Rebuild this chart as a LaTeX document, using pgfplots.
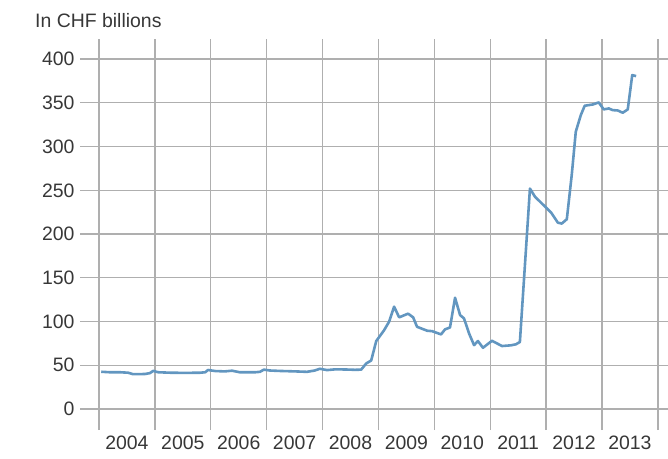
\documentclass[border=0pt]{standalone}
\usepackage{pgfplots}
\pgfplotsset{compat=1.18}
\usepackage{fontspec}
\setmainfont{Liberation Sans}
\definecolor{txt}{RGB}{55,55,55}
\definecolor{gridc}{RGB}{175,175,175}
\definecolor{line}{RGB}{98,150,192}
\begin{document}
\begin{tikzpicture}
\begin{axis}[
  scale only axis,
  width=588bp, height=391bp,
  xmin=2003.66, xmax=2014.18,
  ymin=-24, ymax=423,
  xtick={2004,...,2014},
  xticklabels={2004,2005,2006,2007,2008,2009,2010,2011,2012,2013,},
  x tick label as interval=true,
  ytick={0,50,...,400},
  grid=major,
  major grid style={gridc, line width=1.3bp},
  axis line style={draw=none},
  major tick length=0pt,
  tick label style={font=\fontsize{19.5}{22}\selectfont, text=txt},
  /pgf/number format/assume math mode=true,
  /pgf/number format/1000 sep={},
  yticklabel style={xshift=-2bp},
  xticklabel style={yshift=-2bp},
  clip=false,
]
\addplot[line, line width=2.6bp, line join=round] coordinates {
(2004.04,42.6)(2004.20,42)(2004.38,42)(2004.52,41.5)(2004.61,39.8)(2004.82,40)(2004.91,41)(2004.97,43.6)
(2005.06,42)(2005.27,41.5)(2005.54,41.3)(2005.81,41.5)(2005.90,42)(2005.95,44.6)
(2006.08,43.4)(2006.25,43)(2006.38,43.8)(2006.52,42)(2006.79,42)(2006.88,42.5)(2006.95,45)
(2007.06,44)(2007.24,43.5)(2007.51,43)(2007.72,42.5)(2007.86,44)(2007.95,46)
(2008.08,44.5)(2008.22,45.3)(2008.40,45.2)(2008.58,44.8)(2008.69,45)(2008.78,52)(2008.87,55.5)(2008.96,77.7)
(2009.10,90)(2009.19,99.8)(2009.28,117)(2009.37,104.8)(2009.53,109)(2009.62,104.8)(2009.69,94)(2009.87,89.5)(2009.96,89)
(2010.12,85.3)(2010.19,91)(2010.28,93.3)(2010.37,127.2)(2010.46,107.4)(2010.53,103.6)(2010.62,86.5)(2010.71,73)(2010.78,77.7)(2010.87,70)
(2011.03,78)(2011.21,72)(2011.37,72.8)(2011.46,74)(2011.53,76.6)(2011.71,252)(2011.80,242.7)
(2012.09,224.5)(2012.21,213)(2012.28,212)(2012.37,217)(2012.46,269)(2012.53,317)(2012.62,336)(2012.69,346.7)(2012.84,348.2)(2012.94,350.5)
(2013.03,342.5)(2013.12,343.6)(2013.19,341.7)(2013.28,341.3)(2013.37,338.7)(2013.46,342.5)(2013.54,381.7)(2013.61,380.6)
};
\end{axis}
\node[anchor=base west, text=txt, font=\fontsize{19.5}{22}\selectfont, inner sep=0pt]
  at ([xshift=-45bp, yshift=11bp]current axis.north west) {In CHF billions};
\pgfresetboundingbox
\path[use as bounding box] ([xshift=-80bp,yshift=-29bp]current axis.south west) rectangle ([yshift=39bp]current axis.north east);
\end{tikzpicture}
\end{document}
